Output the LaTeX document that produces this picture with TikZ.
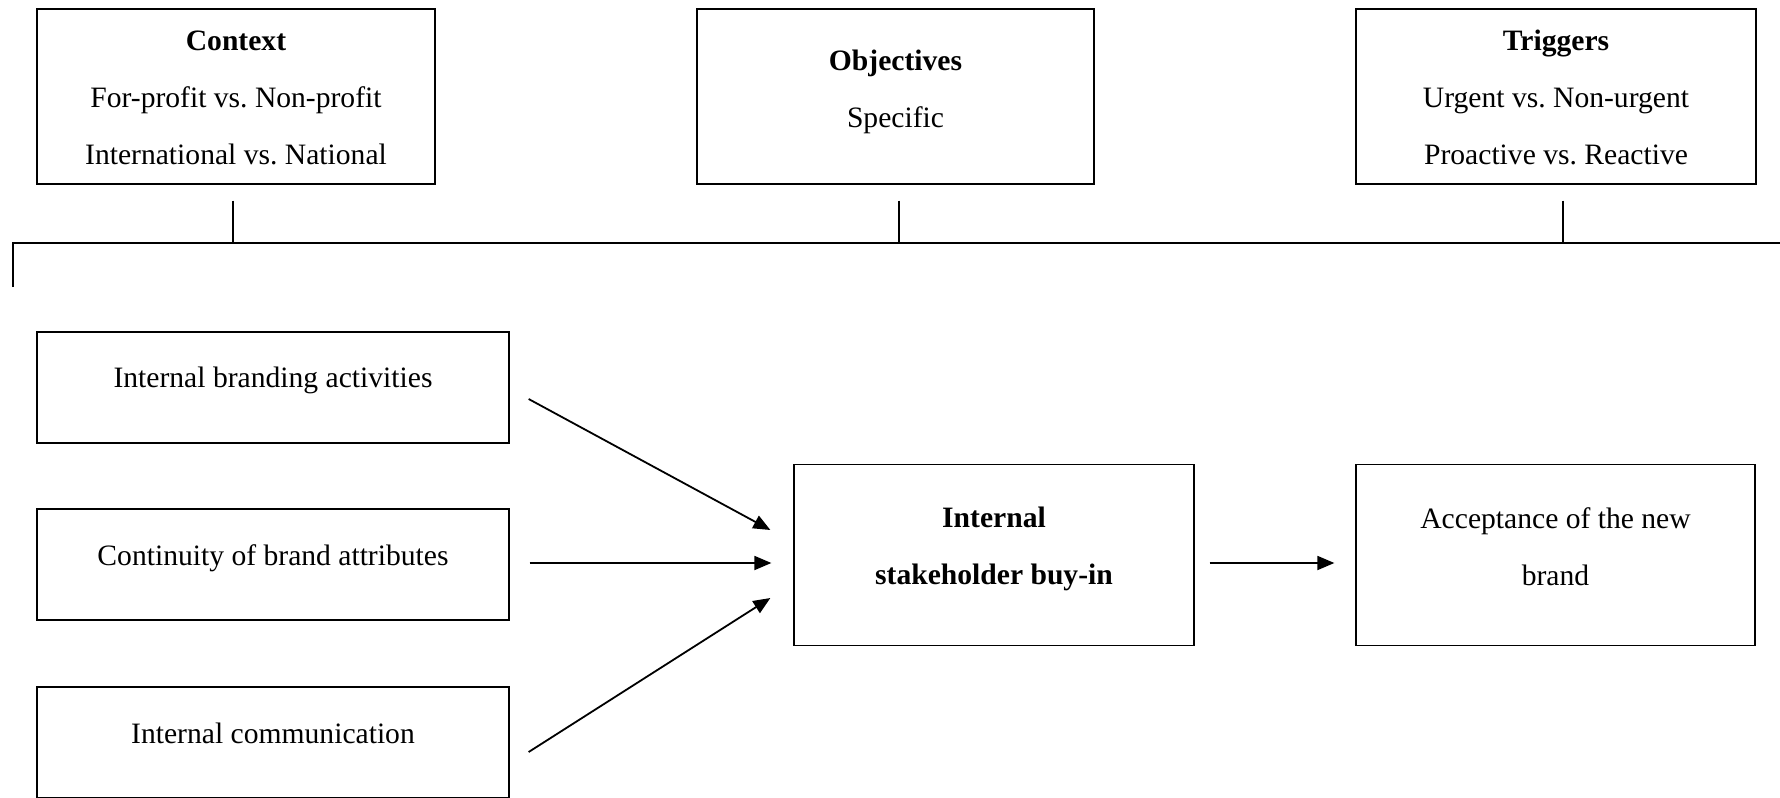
\documentclass[tikz,border=0pt]{standalone}
\usepackage{fontspec}
\setmainfont{Liberation Serif}
\frenchspacing
\usetikzlibrary{arrows.meta}
\tikzset{
  box/.style={draw=black, line width=0.65pt, inner sep=0pt},
  txt/.style={align=center, inner sep=0pt, font=\fontsize{14.8}{28.5}\selectfont},
  link/.style={line width=0.9pt},
  arr/.style={line width=0.9pt, -{Triangle[length=8.5pt,width=7pt]}},
}
\begin{document}
\begin{tikzpicture}[x=0.5pt,y=-0.5pt]
\useasboundingbox (0,0) rectangle (1780,797);
\clip (0,0) rectangle (1780,797);
\fill[white] (0,0) rectangle (1780,797);
% top boxes
\node[box, minimum width=199pt, minimum height=87.5pt] (ctx) at (236,96.5) {};
\node[txt] (ctxt) at ([yshift=-0.5pt]ctx.center) {\textbf{Context}\\For-profit vs. Non-profit\\International vs. National};
\node[box, minimum width=198.5pt, minimum height=87.5pt] (obj) at (895.5,96.5) {};
\node[txt] (objt) at ([yshift=2.5pt]obj.center) {\textbf{Objectives}\\Specific};
\node[box, minimum width=200pt, minimum height=87.5pt] (trg) at (1556,96.5) {};
\node[txt] (trgt) at ([yshift=-0.5pt]trg.center) {\textbf{Triggers}\\Urgent vs. Non-urgent\\Proactive vs. Reactive};
% bracket
\coordinate (hl) at (13,243);
\coordinate (hr) at (1782,243);
\coordinate (hd) at (13,287);
\draw[link] (hd) -- (hl) -- (hr);
\coordinate (cs) at ([shift={(-3,16)}]ctx.south);
\coordinate (os) at ([shift={(3.5,16)}]obj.south);
\coordinate (ts) at ([shift={(7,16)}]trg.south);
\draw[link] (cs) -- (cs |- hl);
\draw[link] (os) -- (os |- hl);
\draw[link] (ts) -- (ts |- hl);
% left boxes
\node[box, minimum width=236pt, minimum height=55.5pt] (b1) at (273,387.5) {};
\node[txt] (b1t) at ([yshift=3.5pt]b1.center) {Internal branding activities};
\node[box, minimum width=236pt, minimum height=55.5pt] (b2) at (273,564.5) {};
\node[txt] (b2t) at ([yshift=3pt]b2.center) {Continuity of brand attributes};
\node[box, minimum width=236pt, minimum height=55.5pt] (b3) at (273,742.5) {};
\node[txt] (b3t) at ([yshift=4.5pt]b3.center) {Internal communication};
% centre and right boxes
\node[box, minimum width=200pt, minimum height=90.5pt] (cb) at (994,555) {};
\node[txt] (cbt) at ([yshift=3pt]cb.center) {\textbf{Internal}\\\textbf{stakeholder buy-in}};
\node[box, minimum width=199.5pt, minimum height=90.5pt] (rb) at (1555.5,555) {};
\node[txt] (rbt) at ([yshift=4pt]rb.center) {Acceptance of the new\\brand};
% arrows
\draw[arr] ([shift={(19,11.5)}]b1.east) -- ([shift={(-23,-25)}]cb.west);
\draw[arr] ([shift={(20,-1.5)}]b2.east) -- ([shift={(-22,8)}]cb.west);
\draw[arr] ([shift={(19,9.5)}]b3.east) -- ([shift={(-23,43)}]cb.west);
\draw[arr] ([shift={(15,8)}]cb.east) -- ([shift={(-21,8)}]rb.west);
\end{tikzpicture}
\end{document}
